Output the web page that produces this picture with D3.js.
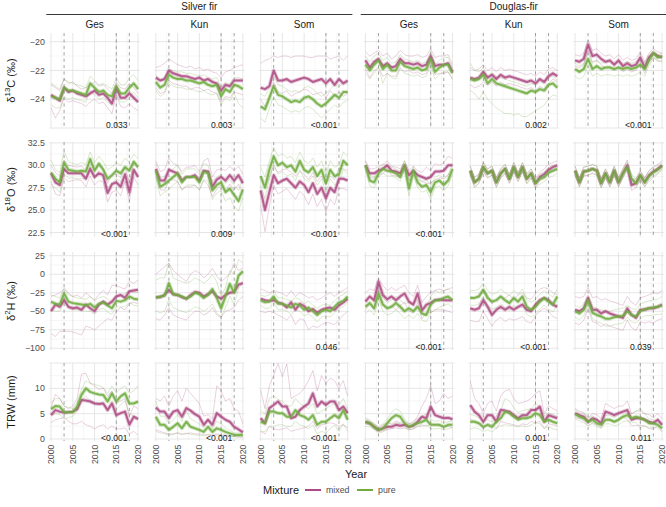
<!DOCTYPE html>
<html><head><meta charset="utf-8">
<script src="https://cdn.jsdelivr.net/npm/d3@7"></script>
<style>body{margin:0;background:#fff;} svg text{font-family:"Liberation Sans",Arial,sans-serif;}</style>
</head><body><svg id="c" width="666" height="507"></svg>
<script>
const years = [2000,2001,2002,2003,2004,2005,2006,2007,2008,2009,2010,2011,2012,2013,2014,2015,2016,2017,2018,2019,2020];
const species = ["Silver fir","Douglas-fir"];
const sites = ["Ges","Kun","Som"];
const mixtures = ["mixed","pure"];
const xTicks = [2000,2005,2010,2015,2020];
const droughtYears = [2003,2015,2018];

const yTicks_d13C = [-24,-22,-20];
const yTicks_d18O = [22.5,25.0,27.5,30.0,32.5];
const yTicks_d2H = [-100,-75,-50,-25,0,25];
const yTicks_TRW = [0,5,10];

const p_d13C = ["0.033","0.003","<0.001","","0.002","<0.001"];
const p_d18O = ["<0.001","0.009","<0.001","<0.001","",""];
const p_d2H  = ["","","0.046","<0.001","<0.001","0.039"];
const p_TRW  = ["<0.001","<0.001","<0.001","","0.001","0.011"];

// mean series, panel order: SF Ges, SF Kun, SF Som, DF Ges, DF Kun, DF Som
const d13C_mixed = [
[-23.7,-23.9,-24.1,-23.2,-23.5,-23.4,-23.6,-23.7,-23.8,-23.6,-23.4,-23.7,-23.6,-23.9,-24.3,-23.2,-23.9,-23.9,-23.6,-23.9,-24.2],
[-22.5,-22.7,-22.6,-22.0,-22.2,-22.3,-22.4,-22.4,-22.5,-22.6,-22.5,-22.7,-22.6,-22.8,-22.9,-23.4,-23.0,-23.1,-22.7,-22.7,-22.7],
[-23.2,-23.3,-23.1,-22.0,-22.7,-22.7,-22.6,-22.8,-22.7,-22.6,-22.5,-22.6,-22.8,-22.7,-22.6,-22.9,-22.6,-23.0,-22.6,-22.9,-22.7],
[-21.3,-21.8,-21.4,-21.2,-21.7,-21.5,-21.8,-21.7,-21.2,-21.5,-21.5,-21.6,-21.5,-21.7,-21.6,-21.0,-21.7,-21.6,-21.6,-21.5,-22.1],
[-22.5,-22.6,-22.5,-22.1,-22.5,-22.3,-22.6,-22.3,-22.5,-22.4,-22.5,-22.6,-22.7,-22.8,-22.7,-22.9,-22.6,-22.8,-22.4,-22.2,-22.4],
[-21.3,-21.4,-21.2,-20.2,-21.0,-20.9,-21.2,-21.4,-21.3,-21.6,-21.3,-21.7,-21.5,-21.7,-21.6,-21.1,-21.8,-21.1,-20.8,-21.0,-21.1]];
const d13C_pure = [
[-23.8,-23.9,-24.0,-23.2,-23.4,-23.4,-23.5,-23.6,-23.7,-22.9,-23.2,-23.5,-23.4,-23.7,-23.8,-23.1,-23.6,-23.6,-23.2,-22.9,-23.3],
[-22.8,-23.2,-23.0,-22.3,-22.5,-22.6,-22.6,-22.7,-22.7,-22.8,-22.9,-22.8,-23.0,-23.1,-23.0,-23.8,-23.3,-23.5,-23.0,-23.1,-23.3],
[-24.5,-24.7,-23.9,-23.1,-23.7,-23.8,-24.0,-24.2,-24.1,-24.2,-23.9,-23.8,-24.0,-24.3,-24.5,-24.3,-24.0,-23.7,-23.9,-23.5,-23.5],
[-21.6,-22.0,-21.6,-21.3,-21.9,-21.6,-22.0,-22.0,-21.4,-21.7,-21.8,-21.9,-21.8,-22.0,-21.9,-21.2,-22.1,-21.8,-21.6,-21.6,-22.2],
[-22.6,-22.7,-22.6,-22.3,-22.9,-22.6,-22.9,-23.0,-23.1,-23.2,-23.3,-23.4,-23.5,-23.6,-23.4,-23.5,-23.3,-23.4,-23.0,-22.9,-23.2],
[-21.9,-22.1,-21.9,-21.2,-21.9,-21.7,-21.9,-21.8,-21.8,-21.9,-21.8,-21.9,-21.8,-21.9,-21.8,-21.6,-21.9,-21.3,-20.8,-21.1,-21.0]];
const d13C_mixed_sites = [
[[-23.0,-23.2,-23.4,-22.6,-22.9,-22.8,-23.1,-23.3,-23.2,-23.0,-22.8,-23.1,-23.0,-23.3,-23.6,-22.8,-23.2,-23.3,-22.9,-23.2,-23.6],
 [-24.6,-25.3,-24.8,-23.9,-24.2,-24.1,-24.2,-24.3,-24.5,-24.2,-24.0,-24.3,-24.2,-24.6,-25.0,-23.7,-24.5,-24.6,-24.3,-24.6,-24.8]],
[[-21.8,-21.7,-21.5,-21.2,-21.4,-21.6,-21.7,-21.8,-21.7,-21.9,-21.8,-22.0,-21.9,-22.1,-22.2,-22.5,-22.1,-22.0,-21.8,-21.7,-21.6],
 [-23.2,-23.6,-23.5,-22.7,-22.9,-23.0,-23.1,-23.1,-23.3,-23.2,-23.2,-23.4,-23.3,-23.5,-23.6,-24.2,-23.8,-23.9,-23.5,-23.6,-23.7]],
[[-21.5,-21.3,-21.2,-21.0,-21.1,-21.0,-21.0,-21.1,-21.0,-21.0,-21.0,-21.1,-21.1,-21.0,-21.0,-21.0,-21.2,-21.1,-21.0,-21.3,-21.0],
 [-24.0,-24.5,-24.0,-22.8,-23.5,-23.6,-23.4,-23.8,-23.6,-23.5,-23.3,-23.4,-23.7,-23.6,-23.5,-23.9,-23.4,-23.8,-23.5,-23.8,-23.6]],
[[-20.7,-21.0,-20.8,-20.6,-21.0,-20.8,-21.2,-21.0,-20.6,-20.9,-21.0,-21.0,-20.9,-21.1,-21.0,-20.5,-21.1,-21.0,-21.0,-20.9,-21.6],
 [-21.9,-22.5,-22.0,-21.8,-22.4,-22.2,-22.4,-22.4,-21.8,-22.1,-22.0,-22.2,-22.1,-22.3,-22.2,-21.5,-22.3,-22.2,-22.2,-22.1,-22.6]],
[[-21.8,-22.0,-21.9,-21.6,-22.0,-21.8,-22.1,-21.8,-22.0,-21.9,-22.0,-22.1,-22.2,-22.3,-22.2,-22.4,-22.1,-22.3,-21.9,-21.8,-22.0],
 [-23.0,-23.2,-23.1,-22.8,-23.0,-22.8,-23.1,-22.8,-23.0,-22.9,-23.0,-23.1,-23.2,-23.3,-23.2,-23.4,-23.1,-23.3,-22.9,-22.6,-22.8]],
[[-20.9,-21.0,-20.8,-19.9,-20.6,-20.5,-20.8,-21.0,-20.9,-21.2,-20.9,-21.3,-21.1,-21.3,-21.2,-20.7,-21.4,-20.8,-20.5,-20.7,-20.8],
 [-21.7,-21.8,-21.6,-20.6,-21.4,-21.3,-21.6,-21.8,-21.7,-22.0,-21.7,-22.1,-21.9,-22.1,-22.0,-21.5,-22.2,-21.4,-21.1,-21.3,-21.4]]];
const d13C_pure_sites = [
[[-22.9,-23.1,-23.3,-22.6,-22.8,-22.9,-23.0,-23.1,-23.2,-22.4,-22.7,-23.0,-22.9,-23.1,-23.3,-22.5,-23.0,-23.0,-22.5,-22.3,-22.7],
 [-24.4,-24.6,-24.6,-23.8,-24.0,-23.9,-24.0,-24.1,-24.2,-23.4,-23.7,-24.0,-23.9,-24.2,-24.4,-23.7,-24.2,-24.2,-23.9,-23.5,-23.9]],
[[-22.3,-22.7,-22.5,-21.9,-22.0,-22.1,-22.1,-22.2,-22.2,-22.3,-22.4,-22.3,-22.5,-22.6,-22.5,-23.2,-22.8,-23.0,-22.5,-22.5,-22.6],
 [-23.4,-23.8,-23.6,-22.8,-23.1,-23.2,-23.2,-23.3,-23.3,-23.4,-23.5,-23.4,-23.6,-23.7,-23.6,-24.4,-23.9,-24.1,-23.6,-24.3,-24.6]],
[[-23.6,-23.8,-23.2,-22.4,-23.0,-23.1,-23.3,-23.5,-23.4,-23.5,-23.2,-23.1,-23.3,-23.6,-23.8,-23.6,-23.3,-23.0,-23.2,-22.8,-22.9],
 [-25.3,-25.6,-24.6,-23.8,-24.4,-24.5,-24.7,-24.9,-24.8,-24.9,-24.6,-24.5,-24.7,-25.0,-25.3,-25.0,-24.7,-24.4,-24.6,-24.2,-24.1]],
[[-21.0,-21.4,-21.0,-20.8,-21.3,-21.1,-21.5,-21.4,-20.9,-21.2,-21.3,-21.4,-21.3,-21.5,-21.4,-20.7,-21.6,-21.3,-21.1,-21.1,-21.8],
 [-22.2,-22.6,-22.2,-21.8,-22.9,-22.2,-22.5,-22.6,-21.9,-22.2,-22.3,-22.4,-22.3,-22.5,-22.4,-21.7,-22.6,-22.3,-22.1,-22.1,-22.6]],
[[-21.5,-22.0,-22.1,-21.8,-22.4,-22.2,-22.4,-22.5,-22.6,-22.7,-22.8,-22.9,-23.0,-23.1,-22.9,-23.0,-22.8,-22.9,-22.5,-22.4,-22.7],
 [-23.4,-23.6,-24.0,-23.5,-24.0,-24.3,-24.6,-24.8,-25.0,-25.0,-25.1,-25.0,-25.2,-25.2,-25.0,-24.8,-24.6,-24.4,-24.0,-23.7,-23.8]],
[[-21.5,-21.7,-21.5,-20.8,-21.5,-21.3,-21.5,-21.4,-21.4,-21.5,-21.4,-21.5,-21.4,-21.5,-21.4,-21.2,-21.5,-21.0,-20.6,-20.9,-20.8],
 [-22.4,-22.6,-22.4,-21.7,-22.4,-22.2,-22.4,-22.3,-22.3,-22.4,-22.3,-22.4,-22.3,-22.4,-22.3,-22.1,-22.4,-21.7,-21.1,-21.4,-21.3]]];

const d18O_mixed = [
[29.1,28.1,27.8,29.6,29.1,29.1,29.1,29.1,28.5,29.6,28.7,29.1,28.9,26.9,27.9,28.1,27.6,29.0,27.0,29.5,28.7],
[29.6,28.3,28.3,29.5,29.3,29.1,28.3,28.7,28.7,28.9,28.3,29.4,29.3,27.6,28.4,28.7,28.3,28.9,28.3,28.9,28.0],
[27.2,25.0,27.0,28.9,28.0,28.3,28.5,28.0,27.5,28.2,27.8,27.0,28.0,26.8,27.5,26.3,27.5,27.0,28.5,28.5,28.3],
[30.0,29.1,29.1,29.4,29.6,30.0,29.4,29.3,29.1,30.0,28.9,29.4,28.9,28.7,28.5,28.7,29.3,29.3,29.4,30.0,30.0],
[29.4,28.1,28.5,29.8,29.1,29.4,28.1,29.1,29.6,28.5,29.8,28.7,29.8,28.5,29.1,28.0,28.7,29.0,29.5,29.8,30.0],
[29.4,28.1,29.3,29.4,29.6,29.4,28.0,29.1,28.1,29.4,28.1,29.1,30.0,27.8,28.0,28.9,28.1,28.9,29.3,29.6,30.0]];
const d18O_pure = [
[29.2,28.5,28.1,30.3,29.5,29.4,29.3,29.4,29.3,30.7,29.4,30.2,29.5,28.5,28.9,29.4,29.1,29.8,29.4,30.4,29.8],
[29.4,27.6,27.9,28.3,28.7,29.1,28.1,28.7,28.7,28.7,28.1,29.3,29.1,27.2,27.8,28.1,27.0,27.4,26.7,26.0,27.3],
[28.8,27.5,29.5,31.0,30.0,30.3,29.8,30.0,29.3,30.5,29.5,29.2,29.8,28.8,29.5,28.0,29.5,28.8,29.0,30.5,30.0],
[30.0,28.3,28.1,29.1,29.6,29.4,29.3,29.1,28.7,30.0,27.4,29.4,28.1,27.6,27.8,27.0,28.1,28.3,27.8,28.3,29.6],
[29.4,28.1,28.5,29.8,29.1,29.4,28.1,29.1,29.6,28.5,29.8,28.7,29.8,28.5,29.1,28.0,28.5,28.7,29.2,29.4,29.6],
[29.4,28.1,29.3,29.4,29.6,29.4,28.0,29.1,28.1,29.4,28.1,29.1,29.8,28.5,28.0,28.9,28.1,28.8,29.2,29.5,29.9]];
const d18O_mixed_sites = [
[[30.0,29.2,28.8,30.6,30.0,29.9,29.8,29.9,29.4,30.4,29.6,29.9,29.7,28.0,28.9,29.0,28.6,29.8,28.1,30.3,29.6],
 [28.2,26.8,26.6,28.6,28.2,28.3,28.4,28.3,27.6,28.8,27.8,28.3,28.1,25.9,27.0,27.2,26.6,28.2,26.0,28.7,27.8]],
[[30.5,29.3,29.5,30.8,30.2,30.0,29.3,29.8,29.8,30.0,29.3,30.5,30.8,28.7,29.5,29.6,29.4,29.9,29.4,29.9,29.0],
 [28.7,27.3,27.2,28.3,28.4,28.2,27.3,27.6,27.6,27.8,27.3,28.3,27.8,26.5,27.3,27.8,27.2,27.9,27.2,27.9,27.0]],
[[28.8,27.5,28.6,30.0,29.2,29.5,29.6,29.2,28.8,29.3,29.0,28.4,29.2,28.2,28.8,27.8,28.8,28.4,29.6,29.6,29.4],
 [25.6,22.6,25.4,27.8,26.8,27.1,27.4,26.8,26.2,27.1,26.6,25.6,26.8,25.4,26.2,24.8,26.2,25.6,27.4,27.4,27.2]],
[[30.5,29.6,29.6,29.9,30.1,30.5,29.9,29.8,29.6,30.5,29.4,29.9,29.4,29.2,29.8,29.4,30.2,30.0,30.3,31.0,30.8],
 [29.5,28.6,28.6,28.9,29.1,29.5,28.9,28.8,28.6,29.5,28.4,28.9,28.4,28.2,28.0,28.0,28.4,28.6,28.5,29.0,29.2]],
[[29.9,28.7,29.0,30.3,29.6,29.9,28.7,29.6,30.1,29.0,30.3,29.2,30.3,29.1,29.6,28.6,29.2,29.6,30.1,30.3,30.5],
 [29.0,27.6,28.0,29.3,28.6,28.9,27.6,28.6,29.1,28.0,29.3,28.2,29.3,28.0,28.6,27.5,28.3,28.5,29.0,29.3,29.5]],
[[29.9,28.6,29.8,29.9,30.1,29.9,28.5,29.6,28.6,29.9,28.6,29.6,30.6,28.4,28.5,29.4,28.6,29.4,29.8,30.1,30.5],
 [28.9,27.6,28.8,28.9,29.1,28.9,27.5,28.6,27.6,28.9,27.6,28.6,29.5,27.2,27.5,28.4,27.6,28.4,28.8,29.1,29.5]]];
const d18O_pure_sites = [
[[30.6,29.5,29.2,31.6,30.4,30.2,30.1,30.3,30.1,31.5,30.3,31.0,30.4,29.5,29.8,30.3,30.0,30.8,30.4,31.2,30.8],
 [27.9,27.5,27.0,29.0,28.6,28.6,28.5,28.5,28.5,29.9,28.5,29.4,28.6,27.5,28.0,28.5,28.2,28.8,28.4,29.6,28.8]],
[[30.2,28.6,28.8,29.3,29.6,30.0,29.0,29.6,29.6,29.6,29.0,30.2,30.0,28.2,28.7,29.0,28.0,28.4,27.8,27.2,28.4],
 [28.6,26.6,27.0,27.3,27.8,28.2,27.2,27.8,27.8,27.8,27.2,28.4,28.2,26.2,26.9,27.2,26.0,26.4,25.4,24.9,26.4]],
[[29.8,28.7,30.5,32.0,31.0,31.3,30.8,31.0,30.3,31.5,30.5,30.2,30.8,29.8,30.5,29.0,30.5,29.8,30.0,31.5,31.0],
 [27.8,26.3,28.5,30.0,29.0,29.3,28.8,29.0,28.3,29.5,28.5,28.2,28.8,27.8,28.5,27.0,28.5,27.8,28.0,29.5,29.0]],
[[30.5,28.9,28.7,29.6,30.1,30.0,29.8,29.6,29.2,30.5,28.2,29.9,28.7,28.2,28.4,27.8,28.7,28.9,28.5,28.9,30.2],
 [29.5,27.7,27.5,28.6,29.1,28.8,28.8,28.6,28.2,29.5,26.6,28.9,27.5,27.0,27.2,26.2,27.5,27.7,27.1,27.7,29.0]],
[[29.9,28.6,29.0,30.3,29.6,29.9,28.6,29.6,30.1,29.0,30.3,29.2,30.3,29.0,29.6,28.5,29.0,29.2,29.8,30.0,30.1],
 [28.9,27.5,28.0,29.3,28.6,28.9,27.5,28.6,29.1,28.0,29.3,28.2,29.3,27.9,28.6,27.4,27.9,28.2,28.6,28.8,29.1]],
[[29.9,28.6,29.8,29.9,30.1,29.9,28.5,29.6,28.6,29.9,28.6,29.6,30.4,29.0,28.5,29.4,28.6,29.4,29.8,30.0,30.3],
 [28.9,27.6,28.8,28.9,29.1,28.9,27.5,28.6,27.6,28.9,27.6,28.6,29.5,28.0,27.5,28.4,27.6,28.2,28.6,29.0,29.6]]];

const d2H_mixed = [
[-50,-41,-44,-35,-44,-46,-45,-48,-41,-46,-50,-41,-37,-41,-37,-30,-28,-32,-23,-22,-21],
[-31,-31,-28,-21,-27,-28,-31,-33,-28,-24,-25,-30,-27,-23,-30,-33,-28,-25,-24,-14,-12],
[-33,-35,-36,-35,-38,-40,-45,-38,-48,-40,-43,-50,-47,-52,-48,-46,-45,-48,-42,-38,-33],
[-37,-30,-35,-10,-28,-34,-30,-35,-30,-26,-37,-41,-26,-49,-41,-39,-35,-34,-35,-35,-35],
[-46,-48,-46,-35,-44,-55,-48,-44,-48,-44,-48,-44,-41,-48,-50,-41,-35,-32,-35,-41,-44],
[-48,-50,-46,-32,-48,-48,-53,-50,-53,-55,-57,-59,-46,-55,-59,-48,-48,-46,-46,-44,-41]];
const d2H_pure = [
[-37,-40,-41,-26,-37,-39,-40,-41,-42,-40,-45,-40,-38,-42,-46,-36,-37,-35,-30,-33,-34],
[-32,-30,-29,-12,-27,-28,-30,-33,-30,-25,-27,-32,-28,-20,-32,-46,-30,-13,-25,-2,4],
[-35,-38,-37,-30,-40,-40,-42,-45,-40,-42,-48,-45,-50,-55,-50,-48,-50,-44,-38,-36,-30],
[-44,-39,-46,-26,-41,-46,-44,-39,-44,-50,-46,-50,-44,-53,-55,-41,-35,-35,-32,-30,-35],
[-32,-32,-30,-21,-32,-37,-35,-30,-35,-39,-32,-37,-30,-44,-48,-44,-37,-32,-37,-41,-30],
[-50,-53,-48,-35,-52,-55,-57,-60,-60,-58,-57,-56,-50,-55,-57,-50,-47,-46,-45,-44,-42]];
const d2H_mixed_sites = [
[[-30,-28,-25,-20,-25,-30,-28,-32,-25,-30,-35,-27,-22,-28,-15,-15,-18,-20,-10,-12,-8],
 [-80,-84,-77,-77,-77,-78,-80,-82,-70,-72,-75,-70,-65,-60,-62,-50,-45,-48,-40,-38,-40]],
[[0,5,10,15,5,0,-5,-10,0,5,2,-5,0,8,-2,-10,-5,0,15,5,8],
 [-60,-62,-55,-45,-55,-58,-60,-62,-55,-50,-50,-55,-52,-45,-55,-58,-50,-48,-45,-35,-30]],
[[-20,-22,-25,-22,-24,-26,-30,-22,-30,-25,-28,-32,-30,-35,-32,-28,-25,-30,-25,-22,-18],
 [-50,-52,-50,-52,-55,-58,-62,-55,-68,-60,-62,-75,-70,-72,-68,-65,-66,-68,-62,-55,-50]],
[[-25,-20,-22,-5,-15,-22,-18,-22,-18,-15,-25,-30,-15,-38,-30,-25,-22,-20,-22,-20,-18],
 [-48,-40,-48,-18,-40,-46,-42,-48,-42,-38,-50,-52,-38,-60,-52,-52,-48,-48,-48,-50,-52]],
[[-30,-32,-28,-20,-28,-40,-34,-30,-32,-28,-34,-28,-25,-32,-34,-26,-20,-18,-20,-25,-28],
 [-62,-64,-64,-50,-60,-70,-62,-58,-64,-60,-62,-60,-57,-64,-66,-56,-50,-46,-50,-57,-60]],
[[-30,-32,-30,-18,-32,-30,-35,-33,-36,-38,-40,-42,-30,-38,-42,-32,-30,-28,-25,-26,-22],
 [-66,-68,-62,-46,-64,-66,-71,-67,-70,-72,-74,-76,-62,-72,-76,-64,-66,-64,-66,-62,-60]]];
const d2H_pure_sites = [
[[-28,-30,-32,-18,-28,-30,-32,-33,-34,-30,-36,-32,-30,-33,-38,-28,-30,-26,-22,-24,-25],
 [-46,-50,-50,-34,-46,-48,-48,-49,-50,-50,-54,-48,-46,-51,-54,-44,-44,-44,-38,-42,-43]],
[[-8,-5,-5,15,-5,-8,-10,-12,-10,-5,-8,-12,-8,0,-10,-30,-18,5,0,20,15],
 [-50,-52,-50,-35,-45,-48,-50,-52,-48,-44,-46,-50,-46,-40,-52,-58,-45,-30,-40,-20,-10]],
[[-28,-30,-28,-22,-32,-32,-34,-36,-32,-34,-40,-36,-42,-46,-42,-40,-42,-36,-30,-28,-22],
 [-42,-46,-46,-38,-48,-48,-50,-54,-48,-50,-56,-54,-58,-64,-58,-56,-58,-52,-46,-44,-38]],
[[-35,-30,-38,-18,-32,-38,-35,-30,-35,-40,-38,-40,-35,-45,-46,-30,-22,-25,-22,-20,-25],
 [-53,-48,-55,-34,-50,-55,-53,-48,-53,-60,-55,-60,-53,-62,-64,-52,-48,-45,-42,-40,-45]],
[[-22,-22,-20,-12,-22,-27,-25,-20,-25,-29,-22,-27,-20,-34,-38,-34,-27,-22,-27,-31,-20],
 [-42,-42,-40,-30,-42,-47,-45,-40,-45,-49,-42,-47,-40,-54,-58,-54,-47,-42,-47,-51,-40]],
[[-42,-45,-40,-28,-44,-46,-48,-50,-50,-48,-47,-46,-42,-46,-48,-40,-38,-36,-35,-34,-30],
 [-58,-61,-56,-42,-60,-64,-66,-70,-70,-68,-67,-66,-58,-64,-66,-60,-56,-56,-55,-54,-54]]];

const TRW_mixed = [
[4.7,5.7,5.4,5.2,5.3,5.4,5.9,7.7,7.6,7.4,7.0,6.9,7.0,5.7,7.0,4.7,5.1,5.4,2.8,4.4,3.9],
[6.2,5.4,5.4,4.1,5.4,5.7,4.4,6.1,5.6,4.9,4.4,2.8,3.8,2.8,5.1,4.4,3.8,3.4,2.4,1.9,1.3],
[4.1,3.1,6.1,6.7,7.4,6.4,6.4,4.1,4.4,5.7,6.4,7.0,9.0,6.4,7.4,6.7,7.4,7.4,5.7,6.4,5.1],
[3.4,3.1,2.4,1.8,2.1,2.4,2.4,2.8,2.6,2.8,2.4,2.6,3.4,4.4,4.1,6.4,4.7,4.4,4.1,4.2,3.9],
[6.7,5.4,4.7,3.4,4.7,4.7,3.4,5.7,5.6,5.4,4.7,4.1,4.7,4.7,5.7,5.7,6.4,3.4,4.7,4.4,4.1],
[5.1,4.7,4.4,3.4,4.1,3.8,3.1,5.4,5.1,4.7,5.1,5.4,5.7,3.8,4.1,4.1,3.8,3.4,3.1,3.8,2.8]];
const TRW_pure = [
[5.9,6.5,6.4,5.3,5.3,5.3,6.4,8.7,10.0,9.3,9.0,8.8,8.7,7.4,9.0,7.4,8.4,9.0,7.0,7.0,7.4],
[4.4,2.8,2.8,1.8,2.4,3.1,2.1,3.4,2.4,2.1,1.8,1.4,2.4,1.4,2.1,1.8,1.4,1.1,0.8,0.8,0.8],
[3.4,3.1,5.4,5.4,5.1,5.1,4.4,4.4,5.7,4.7,4.4,3.8,4.7,2.8,3.4,3.4,4.1,4.7,4.1,5.7,3.8],
[3.4,3.1,2.4,1.8,2.1,3.1,4.1,4.7,4.4,3.1,2.4,2.8,3.1,3.4,3.8,2.8,2.8,2.8,2.4,2.8,2.8],
[3.4,3.4,3.1,2.4,2.8,2.4,3.4,4.1,5.4,5.1,4.4,3.8,4.1,4.1,4.4,5.1,4.7,3.4,3.8,3.4,3.1],
[4.9,4.4,4.1,3.4,3.8,3.1,2.8,3.8,3.8,3.4,3.8,4.4,4.7,4.1,4.4,4.1,3.8,3.1,3.1,2.8,2.1]];
const TRW_mixed_sites = [
[[6.2,8.8,8.0,6.5,6.0,6.5,8.0,12.8,13.0,11.0,10.5,9.8,10.0,8.5,9.5,7.0,7.5,8.0,4.5,6.5,6.0],
 [3.2,3.8,4.0,4.2,3.5,3.0,3.0,3.5,2.8,2.5,2.0,2.5,2.8,2.0,2.5,2.0,2.0,2.2,1.0,1.5,0.8]],
[[8.0,7.5,8.5,6.5,8.5,9.5,7.5,10.0,9.0,8.0,7.0,4.5,4.8,4.0,10.5,9.5,7.5,8.0,6.0,5.5,3.0],
 [1.8,1.5,1.2,1.0,1.0,1.2,1.0,1.0,1.2,1.0,1.0,0.8,0.8,0.8,1.0,0.8,0.8,0.6,0.5,0.4,0.3]],
[[9.7,6.0,10.5,12.6,14.9,12.3,14.8,8.0,8.5,9.0,10.0,11.5,13.5,9.5,12.5,11.0,12.0,11.5,10.0,11.5,8.5],
 [1.5,1.0,2.5,2.0,1.8,2.0,2.2,1.5,1.8,2.0,2.2,2.5,3.5,2.0,2.8,3.0,3.2,3.0,2.5,2.8,2.2]],
[[4.0,3.5,3.0,2.2,2.8,3.2,3.0,3.5,3.2,3.5,3.0,3.2,4.5,6.5,8.0,10.5,7.0,7.5,9.0,8.0,8.5],
 [3.0,2.8,2.0,1.5,1.6,1.8,2.0,2.2,2.0,2.2,1.8,2.0,2.5,2.8,2.5,3.0,2.8,2.6,2.4,2.5,2.2]],
[[11.5,8.0,7.0,5.0,7.0,7.5,5.5,8.5,9.5,9.8,8.0,7.0,7.2,7.5,8.0,9.0,9.5,5.0,6.5,6.0,5.5],
 [4.0,3.5,3.0,2.0,3.0,2.8,2.0,3.5,3.2,3.0,2.8,2.5,3.0,2.8,3.5,3.2,3.5,2.0,3.0,2.8,2.5]],
[[6.0,5.5,5.2,4.2,5.0,4.8,4.0,7.0,6.5,6.0,6.5,6.5,7.5,5.0,5.5,5.5,5.0,4.8,4.2,5.0,4.0],
 [4.2,4.0,3.6,2.6,3.2,2.8,2.2,3.8,3.7,3.4,3.7,4.3,3.9,2.6,2.7,2.7,2.6,2.0,2.0,2.6,1.6]]];
const TRW_pure_sites = [
[[7.0,8.0,8.0,6.5,6.2,6.0,7.2,9.8,11.5,11.0,10.8,10.5,10.2,9.0,10.5,9.0,10.0,10.5,9.0,9.5,10.5],
 [4.8,5.0,4.8,4.0,4.2,4.5,5.5,7.6,8.5,7.6,7.2,7.1,7.2,5.8,7.5,5.8,6.8,7.5,5.0,4.5,4.3]],
[[7.5,4.5,4.5,3.0,3.8,4.8,3.5,5.5,4.0,3.5,3.0,2.2,3.8,2.0,3.5,3.0,2.2,1.8,1.2,1.2,1.0],
 [1.5,1.2,1.0,0.8,0.9,1.2,0.8,1.2,0.9,0.8,0.7,0.6,0.9,0.6,0.8,0.7,0.6,0.5,0.4,0.4,0.5]],
[[5.5,5.0,8.0,8.5,7.8,7.5,6.5,6.5,8.0,7.0,6.5,6.0,7.0,5.0,5.5,6.0,6.5,7.0,6.5,8.0,6.0],
 [1.5,1.5,2.5,2.5,2.8,2.8,2.5,2.5,3.5,2.8,2.5,2.0,2.8,1.0,1.5,1.2,2.0,2.8,1.5,3.0,1.5]],
[[4.2,3.8,3.0,2.5,3.0,4.0,5.2,6.0,5.5,4.0,3.0,3.5,4.0,4.5,5.0,3.8,3.5,3.6,3.2,3.4,3.5],
 [2.5,2.4,1.8,1.2,1.4,2.0,2.8,3.2,3.0,2.2,1.8,2.0,2.4,2.5,2.8,2.0,2.0,2.1,1.8,2.0,2.2]],
[[4.8,4.6,4.2,3.4,3.8,3.4,4.6,5.6,8.0,7.5,6.2,5.2,5.6,5.8,6.0,7.0,6.4,4.6,5.2,4.8,4.4],
 [2.0,2.2,2.0,1.4,1.8,1.4,2.2,2.6,2.8,2.7,2.6,2.4,2.6,2.4,2.8,3.2,3.0,2.2,2.4,2.0,1.8]],
[[5.8,5.2,5.0,4.2,4.6,3.8,3.5,4.6,4.6,4.2,4.8,5.4,5.8,5.0,5.5,6.0,5.0,4.0,3.8,3.5,2.8],
 [4.0,3.6,3.2,2.6,3.0,2.4,2.1,3.0,3.0,2.6,2.8,3.4,3.6,3.2,3.3,2.2,2.6,2.2,2.4,2.1,1.4]]];

// ---------- drawing ----------
const colors = {mixed:"#ad4a83", pure:"#6fab3e"};
const svg = d3.select("#c");
const panelLeft0 = 49.3, colStep = 104.8, panelW = 90.5;
const rows = [
 {top:33, bottom:128, domain:[-26.0,-19.4], ticks:yTicks_d13C, fmt:d3.format("d"), mixed:d13C_mixed, pure:d13C_pure, ms:d13C_mixed_sites, ps:d13C_pure_sites, p:p_d13C, title:["δ","13","C (‰)"]},
 {top:142, bottom:237, domain:[22.0,32.6], ticks:yTicks_d18O, fmt:d3.format(".1f"), mixed:d18O_mixed, pure:d18O_pure, ms:d18O_mixed_sites, ps:d18O_pure_sites, p:p_d18O, title:["δ","18","O (‰)"]},
 {top:252, bottom:350, domain:[-102.3,30], ticks:yTicks_d2H, fmt:d3.format("d"), mixed:d2H_mixed, pure:d2H_pure, ms:d2H_mixed_sites, ps:d2H_pure_sites, p:p_d2H, title:["δ","2","H (‰)"]},
 {top:363, bottom:441, domain:[-0.4,15.0], ticks:yTicks_TRW, fmt:d3.format("d"), mixed:TRW_mixed, pure:TRW_pure, ms:TRW_mixed_sites, ps:TRW_pure_sites, p:p_TRW, title:["TRW (mm)"]}
];
const defs = svg.append("defs");
const txtCol = "#4d4d4d";

rows.forEach((r, ri) => {
  const y = d3.scaleLinear().domain(r.domain).range([r.bottom, r.top]);
  const step = r.ticks[1]-r.ticks[0];
  const majors = d3.range(r.ticks[0]-step*2, r.ticks[r.ticks.length-1]+step*2+1e-9, step).filter(v=>v>=r.domain[0]-1e-9 && v<=r.domain[1]+1e-9);
  const minors = d3.range(r.ticks[0]-step*1.5, r.ticks[r.ticks.length-1]+step*2, step).filter(v=>v>=r.domain[0] && v<=r.domain[1]);
  for (let c=0;c<6;c++){
    const left = panelLeft0 + colStep*c;
    const x = d3.scaleLinear().domain([1999.6,2020.4]).range([left,left+panelW]);
    const g = svg.append("g");
    const cid = `clip${ri}_${c}`;
    defs.append("clipPath").attr("id",cid).append("rect").attr("x",left).attr("y",r.top).attr("width",panelW).attr("height",r.bottom-r.top);
    // grid
    const xMinor = [2002.5,2007.5,2012.5,2017.5];
    g.selectAll(".vm").data(xMinor).join("line").attr("x1",d=>x(d)).attr("x2",d=>x(d)).attr("y1",r.top).attr("y2",r.bottom).attr("stroke","#ececec").attr("stroke-width",0.5);
    g.selectAll(".hm").data(minors).join("line").attr("x1",left).attr("x2",left+panelW).attr("y1",d=>y(d)).attr("y2",d=>y(d)).attr("stroke","#ececec").attr("stroke-width",0.5);
    g.selectAll(".vM").data(xTicks).join("line").attr("x1",d=>x(d)).attr("x2",d=>x(d)).attr("y1",r.top).attr("y2",r.bottom).attr("stroke","#e3e3e3").attr("stroke-width",0.9);
    g.selectAll(".hM").data(majors).join("line").attr("x1",left).attr("x2",left+panelW).attr("y1",d=>y(d)).attr("y2",d=>y(d)).attr("stroke","#e3e3e3").attr("stroke-width",0.9);
    // drought lines
    g.selectAll(".dr").data(droughtYears).join("line").attr("x1",d=>x(d)).attr("x2",d=>x(d)).attr("y1",r.top).attr("y2",r.bottom)
      .attr("stroke","#8a8a8a").attr("stroke-width",0.8).attr("stroke-dasharray","3.2,3.2");
    const line = d3.line().x((d,i)=>x(years[i])).y(d=>y(d));
    const lg = g.append("g").attr("clip-path",`url(#${cid})`);
    // site lines
    [["mixed",r.ms[c]],["pure",r.ps[c]]].forEach(([m,arr])=>{
      arr.forEach(s=>{
        lg.append("path").attr("d",line(s)).attr("fill","none").attr("stroke",colors[m]).attr("stroke-width",0.5).attr("stroke-opacity",0.5);
      });
    });
    // means
    [["mixed",r.mixed[c]],["pure",r.pure[c]]].forEach(([m,arr])=>{
      lg.append("path").attr("d",line(arr)).attr("fill","none").attr("stroke",colors[m]).attr("stroke-width",4).attr("stroke-opacity",0.28).attr("stroke-linejoin","round");
      lg.append("path").attr("d",line(arr)).attr("fill","none").attr("stroke",colors[m]).attr("stroke-width",2).attr("stroke-opacity",0.85).attr("stroke-linejoin","round");
    });
    // p value
    if (r.p[c]) g.append("text").attr("x",x(2017.6)).attr("y",r.bottom-0.5).attr("text-anchor","end").attr("font-size",8.6).attr("fill","#1a1a1a").text(r.p[c]);
    // y tick labels for first column
    if (c===0){
      svg.append("g").selectAll("text").data(r.ticks).join("text").attr("x",left-4.5).attr("y",d=>y(d)).attr("dy","0.35em")
        .attr("text-anchor","end").attr("font-size",8.8).attr("fill",txtCol).text(d=>r.fmt(d));
    }
    // x tick labels for bottom row
    if (ri===3){
      svg.append("g").selectAll("text").data(xTicks).join("text")
        .attr("transform",d=>`translate(${x(d)},${r.bottom+3.5}) rotate(-90)`).attr("dy","0.35em")
        .attr("text-anchor","end").attr("font-size",8.8).attr("fill",txtCol).text(d=>d);
    }
    // site strip
    if (ri===0){
      svg.append("text").attr("x",left+panelW/2).attr("y",28).attr("text-anchor","middle").attr("font-size",10).attr("fill","#1a1a1a").text(sites[c%3]);
    }
  }
  // y title
  const cy = (r.top+r.bottom)/2;
  const t = svg.append("text").attr("transform",`translate(14.5,${cy}) rotate(-90)`).attr("text-anchor","middle").attr("font-size",11).attr("fill","#1a1a1a");
  if (r.title.length===3){
    t.append("tspan").text(r.title[0]);
    t.append("tspan").attr("font-size",8).attr("dy",-4.5).text(r.title[1]);
    t.append("tspan").attr("dy",4.5).text(r.title[2]);
  } else t.text(r.title[0]);
});

// species strips
species.forEach((s,i)=>{
  const l = panelLeft0 + colStep*3*i, rgt = l + colStep*2 + panelW;
  svg.append("text").attr("x",(l+rgt)/2).attr("y",10).attr("text-anchor","middle").attr("font-size",10).attr("fill","#1a1a1a").text(s);
  svg.append("line").attr("x1",l-3).attr("x2",rgt+3).attr("y1",14.5).attr("y2",14.5).attr("stroke","#222").attr("stroke-width",0.9);
});

// x title
svg.append("text").attr("x",356).attr("y",478).attr("text-anchor","middle").attr("font-size",11).attr("fill","#1a1a1a").text("Year");

// legend
const lgd = svg.append("g").attr("transform","translate(0,490)");
lgd.append("text").attr("x",263).attr("y",4).attr("font-size",11).attr("fill","#1a1a1a").text("Mixture");
const keyX = [305, 357];
mixtures.forEach((m,i)=>{
  lgd.append("line").attr("x1",keyX[i]).attr("x2",keyX[i]+16).attr("y1",0).attr("y2",0).attr("stroke",colors[m]).attr("stroke-width",2);
  lgd.append("text").attr("x",keyX[i]+21).attr("y",3).attr("font-size",8.8).attr("fill",txtCol).text(m);
});
</script></body></html>
